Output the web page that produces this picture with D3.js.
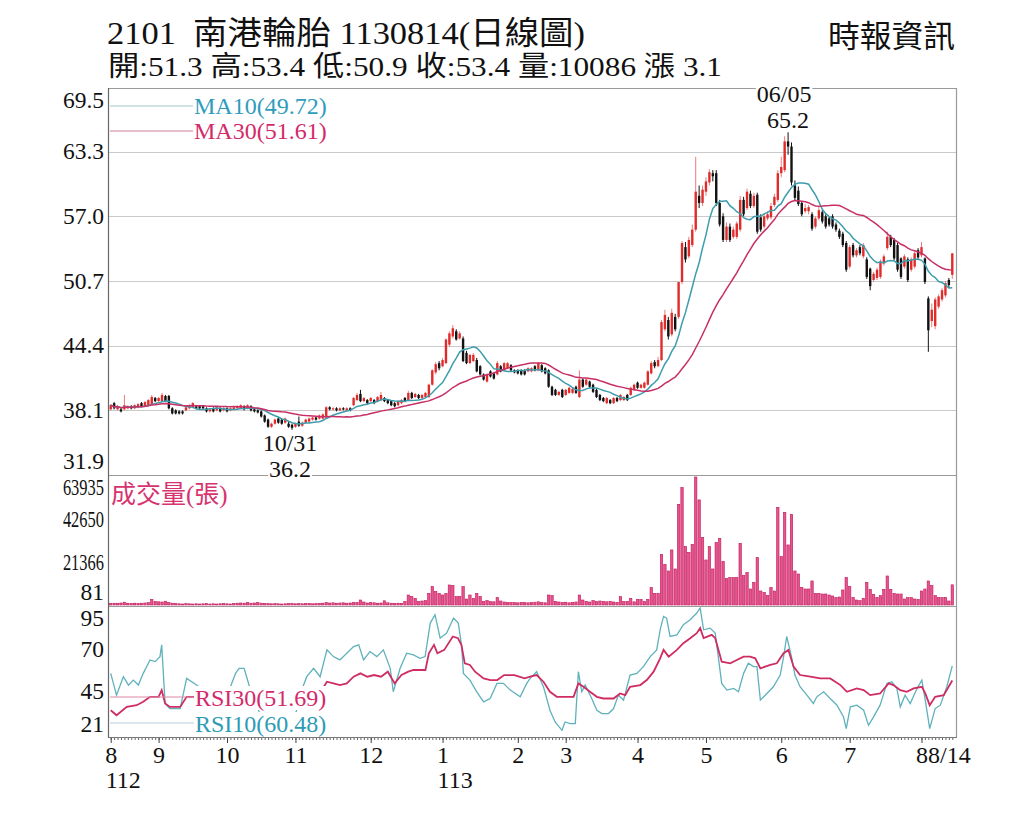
<!DOCTYPE html>
<html>
<head>
<meta charset="utf-8">
<script src="https://cdn.jsdelivr.net/npm/d3@7"></script>
<style>
  body { margin: 0; background: #fff; }
  svg text { font-family: "Liberation Serif", "Noto Sans CJK TC", serif; }
</style>
</head>
<body>
<script>
// ---------------- data ----------------
var titleText = "2101\u00a0\u00a0南港輪胎 1130814(日線圖)";
var quoteText = "開:51.3 高:53.4 低:50.9 收:53.4 量:10086 漲 3.1";
var sourceText = "時報資訊";

var monthLabels = ["8", "9", "10", "11", "12", "1", "2", "3", "4", "5", "6", "7", "8"];
var monthDays   = [14, 20, 20, 22, 21, 22, 14, 21, 20, 22, 20, 21, 10];
var yearMonths  = [0, 5];
var yearLabels  = ["112", "113"];
var lastDate    = "8/14";
var extremeDates = ["10/31", "06/05"];   // low, high

var priceTicks = [69.5, 63.3, 57.0, 50.7, 44.4, 38.1, 31.9];
var volumeTicks = [81, 21366, 42650, 63935];
var rsiTicks = [21, 45, 70, 95];

var maLegend  = ["MA10(49.72)", "MA30(51.61)"];
var rsiLegend = ["RSI30(51.69)", "RSI10(60.48)"];
var volumeTitle = "成交量(張)";

var opens = [
  38.2,38.8,38.2,38.2,38.2,38.3,38.5,38.3,38.4,38.8,
  38.5,38.6,38.7,39.3,39.0,39.0,39.5,39.5,38.3,38.1,
  38.0,38.0,38.1,38.3,38.4,38.5,38.5,38.5,38.3,38.0,
  38.3,38.1,38.3,38.1,38.3,38.1,38.2,38.3,38.3,38.5,
  38.3,38.5,38.2,38.1,38.0,37.6,37.2,36.5,36.8,37.3,
  37.2,36.9,36.8,36.7,36.5,37.0,36.6,36.9,37.0,37.2,
  37.4,37.3,37.3,37.4,38.4,38.2,38.3,38.1,38.3,38.1,
  38.3,38.6,39.1,39.7,39.0,39.1,39.0,39.1,39.0,39.1,
  39.3,39.1,39.0,38.8,38.6,38.8,39.3,39.1,39.8,39.4,
  39.6,39.3,39.4,39.4,40.6,41.8,42.7,42.4,42.7,44.5,
  45.3,45.8,45.1,45.1,43.7,42.7,42.9,43.0,42.4,41.6,
  40.9,41.9,41.7,41.6,42.4,42.0,42.2,42.5,42.0,42.0,
  42.0,42.0,41.9,41.9,42.4,42.0,42.5,42.2,42.0,40.4,
  40.1,39.6,40.1,39.6,39.8,39.8,40.4,39.4,41.1,40.6,
  40.9,40.6,40.1,39.6,39.3,38.8,39.1,38.8,39.3,39.1,
  39.1,39.6,39.6,40.1,40.8,40.3,40.3,40.6,41.7,42.8,
  42.4,43.0,46.0,46.9,45.5,47.2,47.2,50.6,54.0,53.1,
  54.2,55.7,59.0,58.3,59.4,60.3,61.2,61.2,58.3,57.0,
  54.7,56.0,55.0,55.0,55.7,58.6,57.8,59.2,58.0,59.1,
  56.9,56.0,56.8,56.9,58.1,58.6,61.2,61.5,64.3,63.8,
  60.0,59.5,58.3,57.5,57.5,57.2,56.0,56.8,57.4,57.0,
  56.8,57.0,56.2,55.6,55.3,54.4,52.1,54.2,53.2,54.0,
  53.1,52.8,51.9,50.8,51.0,51.1,52.4,53.9,55.0,54.7,
  54.2,52.9,52.1,52.8,51.8,52.1,53.7,53.2,52.9,49.0,
  46.8,46.3,48.2,48.9,49.3,50.8,51.3
];
var closes = [
  38.6,38.3,38.5,38.0,38.6,38.5,38.3,38.6,38.7,38.5,
  38.9,39.1,39.4,39.0,39.3,39.6,39.0,38.3,37.8,37.8,
  37.8,37.8,38.4,38.6,38.8,38.3,38.3,38.3,38.0,38.2,
  38.0,38.4,38.0,38.3,38.0,38.3,38.4,38.5,38.6,38.2,
  38.6,38.1,38.0,37.9,37.5,37.0,36.5,36.8,37.2,36.9,
  36.8,37.3,36.5,36.4,36.8,36.6,36.9,37.2,37.3,37.4,
  37.2,37.6,37.7,38.4,38.2,38.3,38.1,38.3,38.2,38.3,
  38.1,39.3,39.6,39.0,39.3,38.8,39.3,38.8,39.4,39.6,
  39.0,38.8,38.6,38.5,39.0,39.1,39.0,39.8,39.3,39.7,
  39.3,39.6,39.8,40.6,42.0,42.6,42.2,43.0,45.0,45.6,
  46.1,45.0,45.6,42.9,42.7,43.5,43.5,41.9,41.6,41.1,
  41.6,41.4,41.2,42.7,41.9,42.7,42.7,42.0,41.8,41.7,
  41.6,41.6,42.2,42.2,42.0,42.7,41.9,41.7,40.4,39.6,
  39.6,39.9,39.4,40.1,40.3,40.2,39.8,41.1,40.4,41.1,
  40.4,39.9,39.4,39.1,39.0,39.3,38.8,39.3,39.0,39.6,
  39.4,39.1,40.3,40.6,40.3,40.6,40.8,41.9,42.7,42.4,
  43.0,46.7,47.4,45.3,47.6,46.0,50.6,54.4,52.8,54.7,
  55.7,59.4,58.3,59.6,60.4,61.3,60.9,58.3,56.2,54.7,
  56.0,54.7,55.7,56.3,58.6,57.2,59.4,58.0,59.0,55.5,
  55.7,57.0,57.2,58.0,58.9,61.2,61.8,64.3,63.8,60.3,
  58.8,58.2,57.2,57.8,57.9,55.8,56.8,57.6,56.5,56.0,
  56.2,56.0,55.7,55.0,54.2,51.8,54.0,53.2,53.7,53.4,
  54.2,51.1,50.2,51.4,51.8,52.6,53.1,55.0,54.2,52.9,
  51.8,51.1,53.1,50.8,52.8,53.4,53.0,54.0,50.6,45.9,
  47.9,48.9,49.2,49.8,50.5,50.3,53.4
];
var highs = [
  38.7,38.9,38.6,38.4,39.6,38.6,38.6,38.7,38.8,38.9,
  39.0,39.2,39.6,39.4,39.4,39.8,39.6,39.6,38.4,38.2,
  38.1,38.1,38.5,38.7,38.9,38.6,38.6,38.6,38.4,38.3,
  38.4,38.5,38.4,38.4,38.4,38.4,38.5,38.6,38.7,38.6,
  38.7,38.6,38.3,38.2,38.1,37.7,37.3,36.9,37.3,37.4,
  37.3,37.4,37.0,36.8,36.9,37.5,37.0,37.3,37.4,37.5,
  37.5,37.7,37.8,38.5,38.5,38.4,38.4,38.4,38.4,38.4,
  38.4,39.4,39.8,40.1,39.4,39.2,39.4,39.2,39.5,39.9,
  39.4,39.2,39.1,38.9,39.1,39.2,39.4,40.0,39.9,39.8,
  39.7,39.7,39.9,40.7,42.1,42.8,42.9,43.2,45.1,45.8,
  46.4,46.0,45.8,45.3,43.9,43.6,43.7,43.2,42.5,41.7,
  41.7,42.0,41.8,42.9,42.5,42.8,42.8,42.6,42.1,42.1,
  42.1,42.1,42.3,42.3,42.5,42.8,42.6,42.3,42.1,40.5,
  40.2,40.0,40.2,40.2,40.4,40.3,40.5,42.0,41.2,41.2,
  41.0,40.7,40.2,39.7,39.4,39.4,39.2,39.4,39.4,39.7,
  39.5,39.7,40.4,40.7,40.9,40.7,40.9,42.0,42.9,43.0,
  43.3,46.9,47.9,47.2,48.0,47.5,50.6,54.6,54.5,55.0,
  56.2,62.8,60.0,60.0,60.8,61.6,61.5,61.5,58.6,57.3,
  56.4,56.3,56.0,56.5,59.0,58.9,59.7,59.5,59.3,59.3,
  57.2,57.3,57.5,58.3,59.2,61.5,62.8,64.8,65.2,64.2,
  60.5,59.9,58.5,58.2,58.1,57.4,57.0,57.9,57.6,57.2,
  57.0,57.2,56.4,55.8,55.5,54.6,54.2,54.4,53.9,54.2,
  54.4,53.0,52.0,51.6,52.0,52.8,53.3,55.5,55.2,54.9,
  54.4,53.0,53.3,53.0,53.0,53.6,53.9,54.5,53.0,49.2,
  48.5,49.1,49.4,50.0,50.7,51.0,53.4
];
var lows = [
  38.1,38.2,38.1,37.9,38.1,38.2,38.2,38.2,38.3,38.4,
  38.4,38.5,38.6,38.9,38.9,38.9,38.9,38.2,37.7,37.7,
  37.7,37.7,38.0,38.2,38.3,38.2,38.2,38.2,37.9,37.9,
  37.9,38.0,37.9,38.0,37.9,38.0,38.1,38.2,38.2,38.1,
  38.2,38.0,37.9,37.8,37.4,36.9,36.4,36.4,36.7,36.8,
  36.7,36.8,36.4,36.2,36.4,36.5,36.5,36.8,36.9,37.1,
  37.1,37.2,37.2,37.3,38.1,38.1,38.0,38.0,38.1,38.0,
  38.0,38.5,39.0,38.9,38.9,38.7,38.9,38.7,38.9,39.0,
  38.9,38.7,38.5,38.4,38.5,38.7,38.9,39.0,39.2,39.3,
  39.2,39.2,39.3,39.3,40.5,41.6,42.0,42.3,42.6,44.3,
  45.1,44.9,45.0,42.8,42.6,42.6,42.8,41.8,41.5,41.0,
  40.8,41.3,41.1,41.5,41.8,41.9,42.1,41.9,41.7,41.6,
  41.5,41.5,41.8,41.8,41.9,41.9,41.8,41.6,40.3,39.5,
  39.5,39.5,39.3,39.5,39.7,39.7,39.7,39.3,40.3,40.5,
  40.3,39.8,39.3,39.0,38.9,38.7,38.7,38.7,38.9,39.0,
  39.0,39.0,39.5,40.0,40.2,40.2,40.2,40.5,41.6,42.2,
  42.3,42.9,45.8,45.0,45.3,45.8,47.0,50.4,52.5,52.9,
  54.0,55.5,57.8,58.0,59.0,60.0,60.4,58.0,56.0,54.5,
  54.5,54.5,54.8,54.8,55.5,57.0,57.6,57.8,57.8,55.3,
  55.5,55.8,56.6,56.7,57.9,58.4,60.8,61.3,63.0,60.0,
  58.5,58.0,57.0,57.3,57.2,55.6,55.8,56.6,56.3,55.8,
  56.0,55.8,55.5,54.8,54.0,51.6,51.9,53.0,53.0,53.2,
  52.9,50.9,49.8,50.6,50.8,50.9,52.2,53.7,54.0,52.7,
  51.6,50.9,51.9,50.6,51.6,51.9,52.8,53.0,50.4,43.8,
  46.2,46.0,48.0,48.7,49.1,50.0,50.9
];
var volumes = [
  700,900,800,1000,1400,800,700,900,800,900,1000,1200,2800,1800,
  1600,1500,1900,1200,900,700,
  600,500,700,600,500,600,500,600,700,500,600,500,600,700,600,500,
  800,900,1000,900,1300,900,1000,1200,900,800,700,
  600,700,600,500,600,700,800,600,700,600,700,800,600,700,800,900,
  1200,1000,1100,900,1000,1100,900,1000,1200,
  1300,2500,1500,1000,1200,1100,900,1000,2100,1100,900,800,900,800,
  1800,5000,4200,3300,1700,2000,2200,
  5800,9200,6700,5800,5000,5800,10000,9700,4200,4200,9200,3000,5000,3300,5800,
  4200,1700,2200,1700,1600,3700,2000,1500,1200,1300,1200,1100,1300,1200,1100,
  1300,1400,1600,1200,1100,5000,4700,1800,1500,1300,1400,1100,1300,1500,5000,2500,
  1800,1500,2200,1700,2000,1800,1600,1800,1500,1300,4200,1700,1800,3300,1600,2800,2800,1700,2800,
  8700,5800,5800,25300,20300,17000,27500,18000,50300,58700,29200,26300,30300,63935,52500,33700,
  22500,29200,18000,31200,33300,21700,13300,13800,13700,13700,30800,14700,16300,8000,11300,23700,7000,6300,4700,8700,7000,
  48700,24200,46300,30000,45300,17000,15500,8800,8000,8000,12000,5800,5800,5500,5500,5000,4500,3700,4000,7500,
  13700,9200,3700,2500,2200,3300,11300,7800,5300,3800,4700,7800,14500,7800,5800,5500,5500,3000,3700,3700,3000,2800,
  7000,8000,12000,9700,4700,3700,3700,3800,2000,10086
];

// RSI readings: [trading-day index, value]
var rsi10 = [
  [0,56],[1.7,43],[3.7,54],[5.2,49],[6.6,52],[8.1,49],[9.5,56],[11.5,64],[13,63],[14.4,66],[14.9,73],
  [15.9,38],[17.3,35],[20.3,35],[22.2,53],[25.1,49],[27,46],[29,44],[31,47],[33,45],[35,48],[36.5,56],
  [37.5,59],[39,59],[40,52],[41,45],[43,35],[45,25],[47,28],[49,30],[51,32],[53,26],[55,38],[56,47],
  [57.3,54],[59.3,59],[61.2,54],[63.2,70],[65.1,66],[67,64],[69,68],[71,72],[72.5,73],[73.9,64],
  [75.8,69],[77.8,66],[79.7,70],[81.7,59],[82.6,45],[84.6,59],[86.5,68],[88.5,67],[90.4,65],[91.9,66],
  [93.4,86],[94.8,91],[96.3,77],[98.2,80],[100.2,89],[101.6,86],[102.6,72],[103.1,56],[105,52],[107,45],
  [109,39],[110.9,41],[112.9,50],[114.8,50],[116.8,46],[119.7,42],[121.6,50],[122.6,53],[124.5,57],
  [126.5,48],[128.4,34],[129.9,27],[131.9,22],[132.8,27],[134.3,26],[135.8,26],[136.7,57],[137.7,45],
  [138.7,49],[140.6,41],[142.1,34],[143.6,32],[145.5,32],[147,35],[148.4,43],[149.9,40],[151.8,55],
  [153.8,56],[155.7,60],[157.7,66],[159.6,70],[160.6,82],[161.6,90],[162.5,89],[163.5,78],[165.5,79],
  [167.4,85],[169.4,88],[171.3,92],[172.3,95],[173.3,82],[175.2,83],[176.7,80],[178.6,50],[180.1,46],
  [182.1,47],[183.5,45],[185,56],[186.4,62],[187.9,60],[188.9,60],[189.9,40],[191.8,44],[193.7,48],
  [195.7,55],[196.7,66],[197.6,78],[199.1,65],[200,55],[201.5,48],[203.5,43],[205.4,38],[206.4,42],
  [208.4,45],[210.3,41],[212.3,37],[214.2,30],[215,23],[216.2,36],[218.1,37],[220.1,34],[221.5,25],
  [223,30],[224.9,37],[226.9,50],[228.3,51],[229.8,47],[230.8,36],[232.2,43],[233.7,38],[235.7,47],
  [237.1,52],[238.1,40],[239.4,23],[241,35],[242.5,37],[244.4,48],[246,60.48]
];
var rsi30 = [
  [0,34],[1.7,31],[4.7,36],[7.6,37],[9.5,39],[11.5,42],[14,42],[14.9,46],[15.9,38],[17.3,36],[20.3,36],
  [22.2,42],[24.2,42],[27,43],[31,44],[35,45],[39,47],[42,44],[45,40],[48,38],[51,38],[54,37],[57,40],
  [60,44],[62,47],[63.2,51],[65.1,50],[67,49],[69,50],[71,54],[73,56],[75,54],[77,55],[79,54],[81,57],
  [83,50],[85,55],[87,57],[88.5,58],[90.5,58],[92,58],[93,68],[94.5,73],[95.5,68],[97.5,70],[100,78],
  [101.5,77],[102.5,73],[103.5,62],[105,61],[106.5,57],[109,53],[111,52],[113,52],[115,55],[118,55],
  [121,53],[122.6,54],[124.5,55],[126.5,51],[128.4,45],[130.4,42],[132.3,42],[135.3,42],[136.7,50],
  [138.2,48],[140.1,45],[142.1,42],[144,41],[147,41],[148.9,44],[150.4,43],[151.8,48],[154.8,49],
  [156.7,52],[158.7,57],[160.6,65],[161.6,70],[163.1,66],[165.5,70],[167.4,74],[169.4,77],[171.3,80],
  [172.3,83],[173.3,77],[175.7,79],[176.7,77],[178.6,63],[181.1,62],[183,64],[185,66],[186.9,66],
  [188.4,65],[189.9,59],[192.8,61],[194.7,62],[196.7,68],[198.1,70],[199.6,60],[201.5,55],[204.5,54],
  [207.4,53],[210.3,53],[213.3,49],[215.2,45],[218.1,47],[220.1,46],[222,43],[224.9,44],[227.4,50],
  [228.8,49],[230.8,46],[232.7,45],[234.7,47],[237.1,48],[238.1,44],[239.4,37],[241,42],[243.5,43],
  [246,51.69]
];

// ---------------- layout ----------------
var W = 1024, H = 819;
var left = 108, right = 956;
var priceTop = 88, priceBot = 474, volTop = 475, volBot = 605, rsiTop = 606, rsiBot = 737;

var upBody = "#e02b2b", upWick = "#ec7a7a", downBody = "#121212";
var maColors = ["#3d9dad", "#c72f66"];
var rsiColors = ["#cf2c62", "#5fb1bc"];

var svg = d3.select("body").append("svg")
  .attr("width", W).attr("height", H)
  .style("display", "block");

var N = closes.length;
var monthStarts = Array.from(d3.cumsum([0].concat(monthDays.slice(0, -1))));

var xIdx = d3.scaleLinear().domain([-0.5, N - 0.5]).range([109, 954]);
var step = xIdx(1) - xIdx(0);
var yP = d3.scaleLinear().domain([31.9, 69.5]).range([priceBot, priceTop]);
var yV = d3.scaleLinear().domain([0, 63935]).range([volBot, 477]);
var yR = d3.scaleLinear().domain([21, 95]).range([732, 608]);

function movingAvg(arr, n) {
  return arr.map(function(d, i) {
    return d3.mean(arr.slice(Math.max(0, i - n + 1), i + 1));
  });
}
var ma10 = movingAvg(closes, 10);
var ma30 = movingAvg(closes, 30);

// ---------------- header ----------------
svg.append("text").text(titleText)
  .attr("x", 107).attr("y", 44)
  .attr("font-size", 32).attr("fill", "#111")
  .attr("textLength", 478).attr("lengthAdjust", "spacingAndGlyphs");

svg.append("text").text(quoteText)
  .attr("x", 108).attr("y", 76)
  .attr("font-size", 28).attr("fill", "#111")
  .attr("textLength", 614).attr("lengthAdjust", "spacingAndGlyphs");

svg.append("text").text(sourceText)
  .attr("x", 828).attr("y", 47)
  .attr("font-size", 31).attr("fill", "#111")
  .attr("textLength", 127).attr("lengthAdjust", "spacingAndGlyphs");

// ---------------- grid & frames ----------------
var grid = svg.append("g");
grid.selectAll("line.grid")
  .data(priceTicks.slice(1, -1))
  .enter().append("line")
    .attr("x1", left).attr("x2", right)
    .attr("y1", function(d) { return Math.round(yP(d)) + 0.5; })
    .attr("y2", function(d) { return Math.round(yP(d)) + 0.5; })
    .attr("stroke", "#cacaca").attr("stroke-width", 1.2);

[priceTop, volTop, rsiTop].forEach(function(y) {
  grid.append("line")
    .attr("x1", left).attr("x2", right)
    .attr("y1", y + 0.5).attr("y2", y + 0.5)
    .attr("stroke", "#9a9a9a").attr("stroke-width", 1.2);
});
grid.append("line")
  .attr("x1", right + 0.5).attr("x2", right + 0.5)
  .attr("y1", priceTop).attr("y2", rsiBot)
  .attr("stroke", "#9a9a9a").attr("stroke-width", 1.2);

// ---------------- candles ----------------
var bw = step * 0.7;
var candleG = svg.append("g");
var candle = candleG.selectAll("g")
  .data(d3.range(N))
  .enter().append("g");

candle.append("line")
  .attr("x1", function(i) { return xIdx(i); })
  .attr("x2", function(i) { return xIdx(i); })
  .attr("y1", function(i) { return yP(highs[i]); })
  .attr("y2", function(i) { return yP(lows[i]); })
  .attr("stroke", function(i) { return closes[i] >= opens[i] ? upWick : downBody; })
  .attr("stroke-width", 1);

candle.append("rect")
  .attr("x", function(i) { return xIdx(i) - bw / 2; })
  .attr("width", bw)
  .attr("y", function(i) { return yP(Math.max(opens[i], closes[i])); })
  .attr("height", function(i) { return Math.max(1.2, Math.abs(yP(opens[i]) - yP(closes[i]))); })
  .attr("fill", function(i) { return closes[i] >= opens[i] ? upBody : downBody; });

// moving averages
var maLine = d3.line()
  .x(function(d, i) { return xIdx(i); })
  .y(function(d) { return yP(d); });

[ma10, ma30].forEach(function(series, k) {
  svg.append("path")
    .attr("d", maLine(series))
    .attr("fill", "none")
    .attr("stroke", maColors[k])
    .attr("stroke-width", 1.5);
});

// MA legend
var maLegendY = [106, 131];
maLegend.forEach(function(label, k) {
  svg.append("line")
    .attr("x1", 110).attr("x2", 193)
    .attr("y1", maLegendY[k]).attr("y2", maLegendY[k])
    .attr("stroke", k === 0 ? "#9fc6cd" : "#cf7f99").attr("stroke-width", 1);
  svg.append("text").text(label)
    .attr("x", 194).attr("y", maLegendY[k] + 8)
    .attr("font-size", 24)
    .attr("fill", k === 0 ? "#2f9cbc" : "#d4296a");
});

// helper: text with white box behind it
function boxedText(parent, txt, x, y, size, color, anchor) {
  var g = parent.append("g");
  var rect = g.append("rect").attr("fill", "#fff");
  var t = g.append("text").text(txt)
    .attr("x", x).attr("y", y)
    .attr("font-size", size)
    .attr("fill", color)
    .attr("text-anchor", anchor || "start");
  var b = t.node().getBBox();
  rect.attr("x", b.x - 1).attr("y", b.y + 1).attr("width", b.width + 2).attr("height", b.height - 2);
  return g;
}

// high / low annotations
var hiIdx = d3.maxIndex(highs), loIdx = d3.minIndex(lows);
var annot = svg.append("g");
boxedText(annot, extremeDates[1], xIdx(hiIdx) - 4, yP(highs[hiIdx]) - 30, 24, "#111", "middle");
boxedText(annot, d3.format(".1f")(highs[hiIdx]), xIdx(hiIdx), yP(highs[hiIdx]) - 4, 24, "#111", "middle");
boxedText(annot, extremeDates[0], xIdx(loIdx) - 2, yP(lows[loIdx]) + 21, 24, "#111", "middle");
boxedText(annot, d3.format(".1f")(lows[loIdx]), xIdx(loIdx) - 2, yP(lows[loIdx]) + 47, 24, "#111", "middle");

// ---------------- volume ----------------
svg.append("g").selectAll("rect")
  .data(volumes)
  .enter().append("rect")
    .attr("x", function(d, i) { return xIdx(i) - bw / 2; })
    .attr("width", bw)
    .attr("y", function(d) { return yV(d); })
    .attr("height", function(d) { return volBot - yV(d); })
    .attr("fill", "#e8538f")
    .attr("stroke", "#bd1859")
    .attr("stroke-width", 0.6);

svg.append("text").text(volumeTitle)
  .attr("x", 111).attr("y", 503)
  .attr("font-size", 25)
  .attr("fill", "#d6336f");

// ---------------- RSI ----------------
var rsiLine = d3.line()
  .x(function(d) { return xIdx(d[0]); })
  .y(function(d) { return yR(d[1]); });

svg.append("path").attr("d", rsiLine(rsi10))
  .attr("fill", "none").attr("stroke", rsiColors[1]).attr("stroke-width", 1.3);
svg.append("path").attr("d", rsiLine(rsi30))
  .attr("fill", "none").attr("stroke", rsiColors[0]).attr("stroke-width", 1.8);

var rsiLegendY = [697, 723];
rsiLegend.forEach(function(label, k) {
  svg.append("line")
    .attr("x1", 110).attr("x2", 194)
    .attr("y1", rsiLegendY[k]).attr("y2", rsiLegendY[k])
    .attr("stroke", k === 0 ? "#e08aa6" : "#b8d0da").attr("stroke-width", 1.2);
  boxedText(svg, label, 195, rsiLegendY[k] + 9, 24, k === 0 ? "#d4296a" : "#2e9bb6");
});

// ---------------- axes ----------------
function clamp(v, lo, hi) { return Math.max(lo, Math.min(hi, v)); }

function leftAxis(scale, ticks, top, bot, fmt, squeeze) {
  var g = svg.append("g")
    .attr("transform", "translate(104,0)")
    .call(d3.axisLeft(scale).tickValues(ticks).tickSize(0).tickPadding(0).tickFormat(fmt));
  g.select(".domain").remove();
  g.attr("font-size", 23.5).attr("font-family", null);
  g.selectAll(".tick")
    .attr("transform", function(d) { return "translate(0," + clamp(scale(d), top + 12, bot - 13) + ")"; });
  g.selectAll(".tick text").attr("fill", "#111");
  if (squeeze) {
    // long volume numbers are drawn narrower, as in the original
    g.selectAll(".tick text")
      .filter(function(d) { return String(d).length > 3; })
      .attr("transform", "scale(0.7,1)");
  }
  return g;
}
leftAxis(yP, priceTicks, priceTop, priceBot, d3.format(".1f"));
leftAxis(yV, volumeTicks, volTop, volBot, function(d) { return String(d); }, true);
leftAxis(yR, rsiTicks, rsiTop, rsiBot, function(d) { return String(d); });

// left spine
svg.append("line")
  .attr("x1", left + 0.5).attr("x2", left + 0.5)
  .attr("y1", priceTop).attr("y2", rsiBot + 1)
  .attr("stroke", "#666").attr("stroke-width", 1.2);

// bottom: daily minor ticks + month ticks
var minor = svg.append("g")
  .attr("transform", "translate(0," + rsiBot + ")")
  .call(d3.axisBottom(xIdx).tickValues(d3.range(N)).tickSize(3).tickSizeOuter(0).tickFormat(""));
minor.select(".domain").remove();
minor.selectAll("line").attr("stroke", "#666");

var major = svg.append("g")
  .attr("transform", "translate(0," + rsiBot + ")")
  .call(d3.axisBottom(xIdx).tickValues(monthStarts).tickSize(6).tickSizeOuter(0).tickPadding(3)
    .tickFormat(function(d, i) { return monthLabels[i]; }));
major.select(".domain").remove();
major.attr("font-size", 24).attr("font-family", null);
major.selectAll("line").attr("stroke", "#444");
major.selectAll("text").attr("fill", "#111");

svg.append("line")
  .attr("x1", left).attr("x2", right + 1)
  .attr("y1", rsiBot + 0.5).attr("y2", rsiBot + 0.5)
  .attr("stroke", "#777").attr("stroke-width", 1.2);

yearMonths.forEach(function(m, k) {
  svg.append("text").text(yearLabels[k])
    .attr("x", xIdx(monthStarts[m]) - 5).attr("y", 788)
    .attr("font-size", 24).attr("fill", "#111");
});
svg.append("text").text(lastDate)
  .attr("x", xIdx(monthStarts[monthStarts.length - 1]) + 6.5).attr("y", 763)
  .attr("font-size", 24).attr("fill", "#111");
</script>
</body>
</html>
